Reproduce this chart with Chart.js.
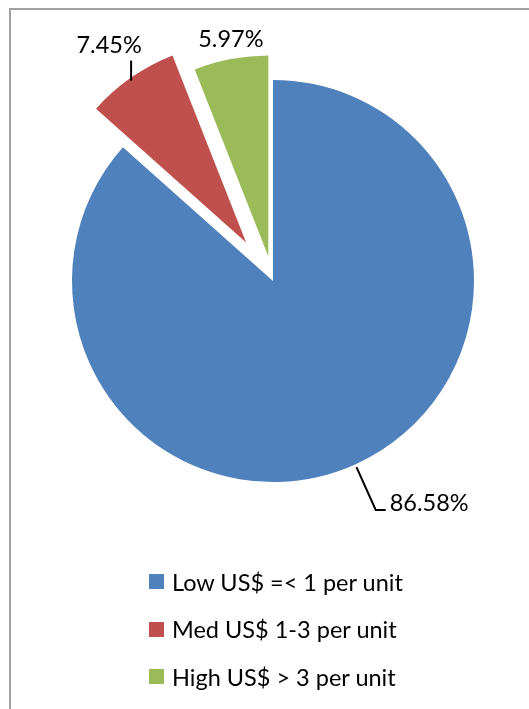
<!DOCTYPE html>
<html>
<head>
<meta charset="utf-8">
<script src="https://cdn.jsdelivr.net/npm/chart.js@4/dist/chart.umd.min.js"></script>
<style>
  html, body { margin: 0; padding: 0; background: #fff; }
  #wrap { position: relative; width: 529px; height: 709px; overflow: hidden; }
  #frame { position: absolute; left: 9px; top: 8px; right: -4px; bottom: -4px;
           border-top: 2px solid #a0a0a0; border-left: 2px solid #a0a0a0; }
  canvas { position: absolute; left: 0; top: 0; }
  #legend { position: absolute; left: 149px; top: 558px; font-family: Lato, sans-serif; font-size: 23.5px; color: #000; }
  .item { height: 47.5px; display: flex; align-items: center; }
  .box { width: 15px; height: 15px; margin-right: 8px; }
</style>
</head>
<body>
<div id="wrap">
  <div id="frame"></div>
  <canvas id="myChart" width="529" height="709"></canvas>
  <div id="legend"></div>
</div>
<script>
const categories = ['Low US$ =< 1 per unit', 'Med US$ 1-3 per unit', 'High US$ > 3 per unit'];
const shares = [86.58, 7.45, 5.97];
const valueLabels = ['86.58%', '7.45%', '5.97%'];
const sliceColors = ['#4F81BD', '#C0504D', '#9BBB59'];
const explode = [0, 47, 25];

function sliceCenter(arc, i) {
    const mid = (arc.startAngle + arc.endAngle) / 2;
    return {
        mid: mid,
        x: arc.x + Math.cos(mid) * explode[i],
        y: arc.y + Math.sin(mid) * explode[i]
    };
}

// pull slices out of the pie without growing their radius
const explodeSlices = {
    id: 'explodeSlices',
    beforeDatasetDraw(chart, args) {
        const ctx = chart.ctx;
        args.meta.data.forEach((arc, i) => {
            const c = sliceCenter(arc, i);
            ctx.save();
            ctx.translate(c.x - arc.x, c.y - arc.y);
            arc.draw(ctx);
            ctx.restore();
        });
        return false;
    }
};

// data labels with leader lines, placed from each arc's own geometry
const pieLabels = {
    id: 'pieLabels',
    afterDatasetsDraw(chart) {
        const ctx = chart.ctx;
        const arcs = chart.getDatasetMeta(0).data;
        ctx.save();
        ctx.font = '23.5px Lato, sans-serif';
        ctx.fillStyle = '#000';
        ctx.strokeStyle = '#000';
        ctx.lineWidth = 2;
        arcs.forEach((arc, i) => {
            const c = sliceCenter(arc, i);
            const ex = c.x + Math.cos(c.mid) * arc.outerRadius;
            const ey = c.y + Math.sin(c.mid) * arc.outerRadius;
            const text = valueLabels[i];
            if (i === 0) {
                const sx = ex + Math.cos(c.mid) * 3, sy = ey + Math.sin(c.mid) * 3;
                const kx = ex + Math.cos(c.mid) * 50, ky = ey + Math.sin(c.mid) * 50;
                ctx.beginPath();
                ctx.moveTo(sx, sy);
                ctx.lineTo(kx, ky);
                ctx.lineTo(kx + 10, ky);
                ctx.stroke();
                ctx.textAlign = 'left';
                ctx.textBaseline = 'middle';
                ctx.fillText(text, kx + 14, ky - 7);
            } else if (i === 1) {
                ctx.beginPath();
                ctx.moveTo(ex, ey + 3);
                ctx.lineTo(ex, ey - 17);
                ctx.stroke();
                ctx.textAlign = 'center';
                ctx.textBaseline = 'bottom';
                ctx.fillText(text, ex - 22, ey - 20);
            } else {
                ctx.textAlign = 'center';
                ctx.textBaseline = 'bottom';
                ctx.fillText(text, ex, ey - 8);
            }
        });
        ctx.restore();
    }
};

const ctx = document.getElementById('myChart');

const myChart = new Chart(ctx, {
    type: 'pie',
    data: {
        labels: categories,
        datasets: [{
            data: shares,
            backgroundColor: sliceColors,
            borderWidth: 0
        }]
    },
    options: {
        responsive: false,
        animation: false,
        radius: 201,
        layout: {
            padding: { left: 17, right: 0, top: 0, bottom: 147 }
        },
        plugins: {
            legend: { display: false },
            tooltip: { enabled: false }
        }
    },
    plugins: [explodeSlices, pieLabels]
});

const legend = document.getElementById('legend');
categories.forEach((name, i) => {
    const row = document.createElement('div');
    row.className = 'item';
    const box = document.createElement('span');
    box.className = 'box';
    box.style.background = sliceColors[i];
    const label = document.createElement('span');
    label.textContent = name;
    row.appendChild(box);
    row.appendChild(label);
    legend.appendChild(row);
});
</script>
</body>
</html>
